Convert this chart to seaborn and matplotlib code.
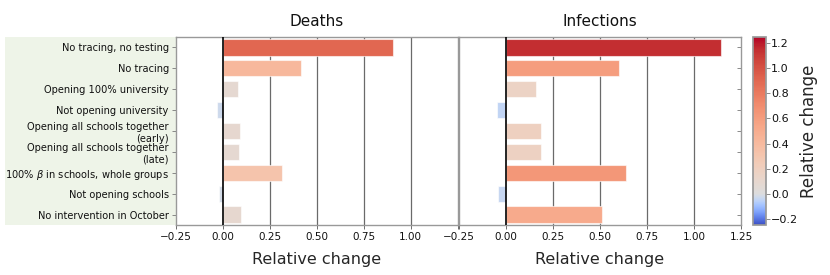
import numpy as np
import matplotlib
matplotlib.use("Agg")
import matplotlib.pyplot as plt
import matplotlib.colors as mcolors
from matplotlib.patches import Rectangle
import seaborn as sns

scenarios = [
    "No tracing, no testing",
    "No tracing",
    "Opening 100% university",
    "Not opening university",
    "Opening all schools together\n(early)",
    "Opening all schools together\n(late)",
    "100% $\\beta$ in schools, whole groups",
    "Not opening schools",
    "No intervention in October",
]
deaths = [0.907, 0.415, 0.080, -0.029, 0.092, 0.085, 0.314, -0.018, 0.097]
infections = [1.144, 0.603, 0.160, -0.048, 0.187, 0.184, 0.640, -0.041, 0.510]
panels = ["Deaths", "Infections"]

sns.set_theme(style="white")
plt.rcParams["font.family"] = ["DejaVu Sans"]
plt.rcParams["text.color"] = "#111111"
plt.rcParams["xtick.color"] = "#111111"
plt.rcParams["ytick.color"] = "#111111"

norm = mcolors.TwoSlopeNorm(vmin=-0.25, vcenter=0.0, vmax=1.25)
cmap = plt.get_cmap("coolwarm")

fig = plt.figure(figsize=(8.3, 2.75), dpi=100)
# light green band behind the scenario names
band = Rectangle((5 / 830, 1 - 225 / 275), 171 / 830, 188 / 275,
                 transform=fig.transFigure, facecolor="#eef4e8",
                 edgecolor="none", zorder=-5)
fig.add_artist(band)

ax1 = fig.add_axes([175.7 / 830, 1 - 225 / 275, 282 / 830, 188 / 275])
ax2 = fig.add_axes([459 / 830, 1 - 225 / 275, 282 / 830, 188 / 275])
cax = fig.add_axes([753 / 830, 1 - 225 / 275, 12.5 / 830, 188 / 275])

for ax, vals, title in zip([ax1, ax2], [deaths, infections], panels):
    cols = [cmap(norm(v)) for v in vals]
    sns.barplot(x=vals, y=scenarios, hue=scenarios, palette=cols, legend=False,
                orient="h", width=0.78, ax=ax, saturation=1,
                edgecolor=(1, 1, 1, 0.6), linewidth=0.8, zorder=3)
    ax.set_xlim(-0.25, 1.25)
    ax.set_ylim(8.5, -0.5)
    ax.set_xticks([-0.25, 0, 0.25, 0.5, 0.75, 1.0, 1.25])
    ax.set_xticklabels(["\u22120.25", "0.00", "0.25", "0.50", "0.75", "1.00", "1.25"])
    for xv in [0.25, 0.5, 0.75, 1.0]:
        ax.axvline(xv, color="#6a6a6a", lw=0.9, zorder=1)
    ax.axvline(0, color="black", lw=1.2, zorder=4)
    ax.set_title(title, fontsize=11, pad=8)
    ax.set_xlabel("Relative change", fontsize=11.5, labelpad=7)
    ax.set_ylabel("")
    ax.tick_params(axis="x", labelsize=7.5, length=3, width=0.6,
                   color="#555555", bottom=True, pad=2)
    for s in ax.spines.values():
        s.set_color("#999999")
        s.set_linewidth(1.0)
    ax.set_facecolor("white")

ax1.tick_params(axis="y", labelsize=7.1, left=True, length=3, width=0.6,
                color="#777777", pad=2)
ax1.set_xticklabels(["\u22120.25", "0.00", "0.25", "0.50", "0.75", "1.00", ""])
ax2.tick_params(axis="y", left=False, right=True, labelleft=False,
                direction="in", length=3, width=0.6, color="#777777")

sm = matplotlib.cm.ScalarMappable(norm=norm, cmap=cmap)
cb = fig.colorbar(sm, cax=cax)
cb.ax.set_yscale("linear")
cb.set_ticks([-0.2, 0.0, 0.2, 0.4, 0.6, 0.8, 1.0, 1.2])
cb.ax.set_yticklabels(["\u22120.2", "0.0", "0.2", "0.4", "0.6", "0.8", "1.0", "1.2"])
cb.ax.tick_params(labelsize=8, length=3, width=0.6, pad=1, color="#777777")
cb.outline.set_edgecolor("#999999")
cb.set_label("Relative change", fontsize=12, labelpad=1)

fig.savefig("out.png", dpi=100)
